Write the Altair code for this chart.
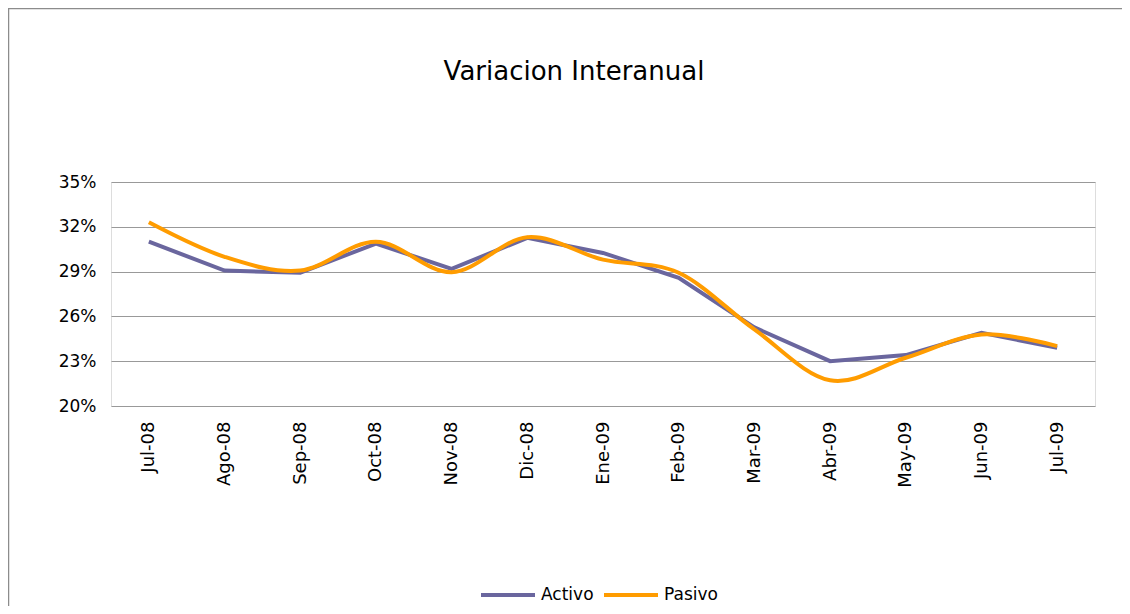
import altair as alt
import pandas as pd

months = ["Jul-08", "Ago-08", "Sep-08", "Oct-08", "Nov-08", "Dic-08", "Ene-09",
          "Feb-09", "Mar-09", "Abr-09", "May-09", "Jun-09", "Jul-09"]
activo = [31.0, 29.07, 28.92, 30.88, 29.18, 31.26, 30.25, 28.58, 25.26, 23.0, 23.41, 24.9, 23.9]
pasivo = [32.3, 29.99, 29.07, 31.0, 28.96, 31.3, 29.8, 28.92, 25.13, 21.72, 23.23, 24.79, 24.01]
series = ["Activo", "Pasivo"]
colors = ["#6A669E", "#FF9C00"]
y_ticks = [0.20, 0.23, 0.26, 0.29, 0.32, 0.35]
title_text = "Variacion Interanual"

rows = []
for m, a in zip(months, activo):
    rows.append({"mes": m, "serie": "Activo", "valor": a / 100})
for m, p in zip(months, pasivo):
    rows.append({"mes": m, "serie": "Pasivo", "valor": p / 100})
df = pd.DataFrame(rows)

FONT = "DejaVu Sans"

x = alt.X("mes:N", sort=months,
          scale=alt.Scale(type="point", padding=0.5),
          axis=alt.Axis(title=None, labelAngle=-90, labelFont=FONT, labelFontSize=18,
                        labelColor="#000000", labelPadding=15, ticks=False,
                        domain=False, grid=False))
y = alt.Y("valor:Q",
          scale=alt.Scale(domain=[0.20, 0.35], nice=False, zero=False),
          axis=alt.Axis(title=None, values=y_ticks, format=".0%", labelFont=FONT,
                        labelFontSize=17, labelColor="#000000", labelPadding=15,
                        ticks=False, domain=False, grid=True, gridColor="#999999",
                        gridWidth=1))
color = alt.Color("serie:N",
                  scale=alt.Scale(domain=series, range=colors),
                  legend=alt.Legend(title=None, orient="none", legendX=368, legendY=384,
                                    direction="horizontal", symbolType="stroke",
                                    symbolSize=2916, symbolStrokeWidth=4,
                                    labelFont=FONT, labelFontSize=17,
                                    labelColor="#000000", labelOffset=4,
                                    columnPadding=2, padding=0, rowPadding=0,
                                    labelLimit=300))

base = alt.Chart(df).encode(x=x, y=y, color=color)
act_line = base.transform_filter(alt.datum.serie == "Activo").mark_line(
    strokeWidth=4, interpolate="linear")
pas_line = base.transform_filter(alt.datum.serie == "Pasivo").mark_line(
    strokeWidth=4, interpolate="cardinal")

one = pd.DataFrame({"k": [0]})
border_left = alt.Chart(one).mark_rule(color="#8C8C8C", strokeWidth=1.5).encode(
    x=alt.value(-102.5), y=alt.value(-174), y2=alt.value(430))
border_top = alt.Chart(one).mark_rule(color="#8C8C8C", strokeWidth=1.5).encode(
    x=alt.value(-103), x2=alt.value(1015), y=alt.value(-173.5))
title = alt.Chart(one).mark_text(font=FONT, fontSize=26, color="#000000",
                                 align="center", baseline="alphabetic").encode(
    x=alt.value(463), y=alt.value(-102), text=alt.value(title_text))

chart = alt.layer(border_left, border_top, title, act_line, pas_line).properties(
    width=984, height=224,
    autosize=alt.AutoSizeParams(type="none"),
    padding={"left": 103, "top": 174, "right": 27, "bottom": 200},
).configure_view(stroke=None).configure(background="#FFFFFF")

chart.save("out.html", embed_options={"renderer": "svg", "actions": False})
